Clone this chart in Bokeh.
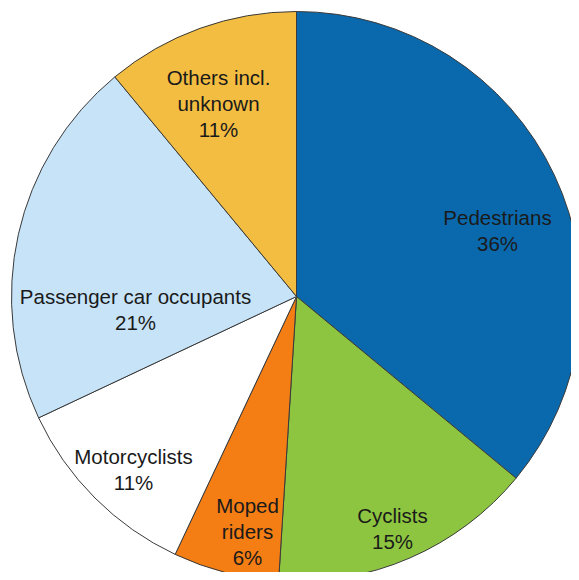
import math
from bokeh.plotting import figure
from bokeh.models import Range1d, ColumnDataSource
from bokeh.core.properties import value
from bokeh.embed import file_html
from bokeh.resources import INLINE

# ---- data ----
categories = ["Pedestrians", "Cyclists", "Moped riders", "Motorcyclists",
              "Passenger car occupants", "Others incl. unknown"]
shares = [36, 15, 6, 11, 21, 11]
label_lines = [["Pedestrians", "36%"],
               ["Cyclists", "15%"],
               ["Moped", "riders", "6%"],
               ["Motorcyclists", "11%"],
               ["Passenger car occupants", "21%"],
               ["Others incl.", "unknown", "11%"]]

# ---- styling / layout ----
colors = ["#0A69AD", "#8DC540", "#F47D14", "#FFFFFF", "#C6E3F8", "#F3BD42"]
# label anchor (centre x, first baseline y) in plot units, centre of pie = (0, 0)
label_anchor = [(201, 79), (96, -219), (-49, -209), (-163, -160), (-161, 0), (-78, 219)]
line_step = 26
R = 285

p = figure(width=571, height=572, output_backend="svg", toolbar_location=None,
           x_range=Range1d(-296, 275), y_range=Range1d(-276, 296),
           min_border=0)
p.axis.visible = False
p.grid.visible = False
p.outline_line_color = None
p.background_fill_color = "white"
p.border_fill_color = "white"

total = float(sum(shares))
starts, ends = [], []
cum = 0.0
for s in shares:
    a0 = math.pi / 2 - 2 * math.pi * (cum + s) / total
    a1 = math.pi / 2 - 2 * math.pi * cum / total
    starts.append(a0)
    ends.append(a1)
    cum += s

src = ColumnDataSource(dict(start=starts, end=ends, color=colors, name=categories))
p.wedge(x=0, y=0, radius=R, start_angle="start", end_angle="end",
        fill_color="color", line_color="#3a3a3a", line_width=1, source=src)

tx, ty, tt = [], [], []
for (ax, ay), lines in zip(label_anchor, label_lines):
    for i, ln in enumerate(lines):
        tx.append(ax)
        ty.append(ay - i * line_step)
        tt.append(ln)
p.text(x=tx, y=ty, text=tt, text_align="center", text_baseline="alphabetic",
       text_font=value("Liberation Sans"), text_font_size="20.5px",
       text_color="#1a1a1a")

open("out.html", "w").write(file_html(p, INLINE))
